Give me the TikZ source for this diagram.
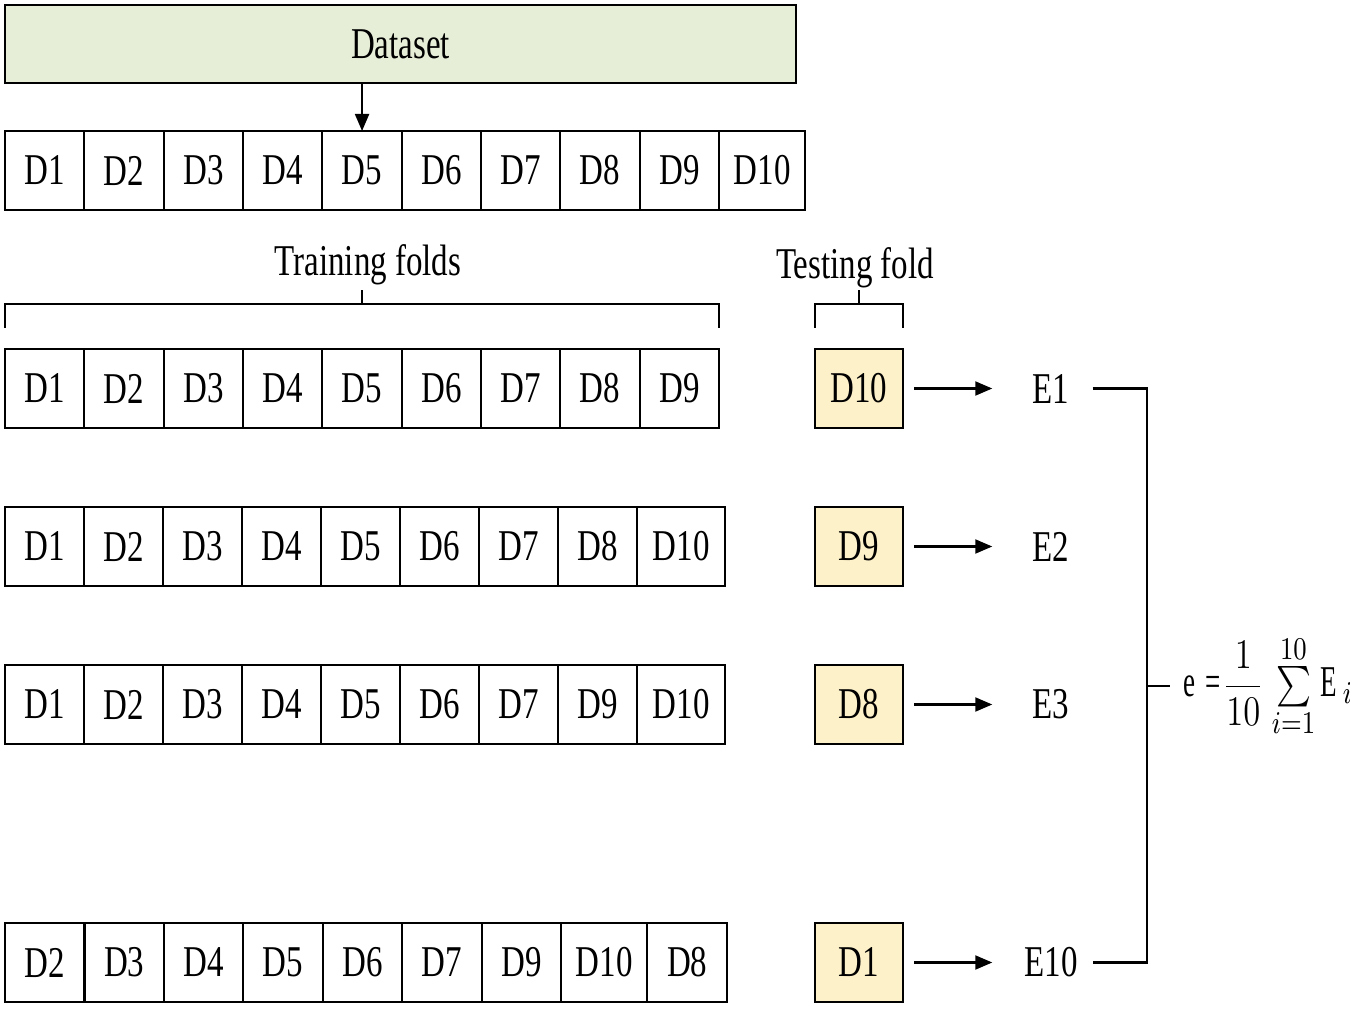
\documentclass[tikz,border=0pt]{standalone}
\usepackage{fontspec}
\setmainfont{Liberation Serif}[FakeStretch=0.75]
\usetikzlibrary{positioning,arrows.meta}
\definecolor{datagreen}{RGB}{231,238,216}
\definecolor{testyellow}{RGB}{253,241,201}
\tikzset{
  every node/.style={font=\fontsize{12.5}{15}\selectfont},
  fold/.style={draw, line width=0.6pt, minimum height=0.79cm, inner sep=0pt, outer sep=0pt},
  testfold/.style={fold, minimum width=0.88cm, fill=testyellow},
  err/.style={minimum width=0.82cm, inner sep=0pt},
  line/.style={line width=0.6pt},
  arr/.style={line width=0.6pt, -{Triangle[length=0.17cm,width=0.14cm]}}
}
\begin{document}
\begin{tikzpicture}[x=0.01cm, y=-0.01cm]
\useasboundingbox (0,0) rectangle (1350,1009);
\node[fold, fill=datagreen, minimum width=7.91cm, minimum height=0.78cm] (dataset) at (400.5,44) {Dataset};
\coordinate (r0c0) at (5,170.5);
\foreach \lab/\w [count=\c] in {D1/0.793,D2/0.793,D3/0.793,D4/0.793,D5/0.793,D6/0.793,D7/0.793,D8/0.793,D9/0.793,D10/0.86} {
  \pgfmathtruncatemacro\p{\c-1}
  \node[fold, minimum width=\w cm, right=0pt of r0c\p] (r0c\c) {\lab};
}
\draw[arr] (dataset.south -| r0c5.north) -- (r0c5.north);
\foreach \r/\yc/\cells in {
  1/388.5/{D1/0.793,D2/0.793,D3/0.793,D4/0.793,D5/0.793,D6/0.793,D7/0.793,D8/0.793,D9/0.793},
  2/546.5/{D1/0.79,D2/0.79,D3/0.79,D4/0.79,D5/0.79,D6/0.79,D7/0.79,D8/0.79,D10/0.88},
  3/704.5/{D1/0.79,D2/0.79,D3/0.79,D4/0.79,D5/0.79,D6/0.79,D7/0.79,D9/0.79,D10/0.88},
  10/962.5/{D2/0.794,D3/0.794,D4/0.794,D5/0.794,D6/0.794,D7/0.794,D9/0.794,D10/0.86,D8/0.8}} {
  \coordinate (r\r c0) at (5,\yc);
  \foreach \lab/\w [count=\c] in \cells {
    \pgfmathtruncatemacro\p{\c-1}
    \node[fold, minimum width=\w cm, right=0pt of r\r c\p] (r\r c\c) {\lab};
  }
}
\foreach \r/\yc/\t in {1/388.5/D10, 2/546.5/D9, 3/704.5/D8, 10/962.5/D1} {
  \node[testfold] (t\r) at (859,\yc) {\t};
  \node[err] (e\r) at (1051,\yc) {E\r};
  \draw[arr, shorten <=0.11cm, shorten >=0.17cm] (t\r) -- (e\r);
}
\draw[line] ([yshift=0.21cm]r1c1.north west) |- ([yshift=0.45cm]r1c9.north east) -- ([yshift=0.21cm]r1c9.north east);
\coordinate (trainmid) at ([yshift=0.45cm]r1c5.north);
\draw[line] (trainmid) -- ++(0,-14);
\node (trainlab) at (368,265) {Training folds};
\draw[line] ([yshift=0.21cm]t1.north west) |- ([yshift=0.45cm]t1.north east) -- ([yshift=0.21cm]t1.north east);
\coordinate (testmid) at ([yshift=0.45cm]t1.north);
\draw[line] (testmid) -- ++(0,-14);
\node (testlab) at (855,268) {Testing fold};
\coordinate (join) at (1147,686);
\draw[line] (e1.east) -| (join) |- (e10.east);
\node[anchor=west, inner sep=0.13cm] (formula) at (1170,686) {\scalebox{0.82}[1]{$\thickmuskip=3mu \nulldelimiterspace=0pt \displaystyle \mathrm{e}\mathrel{\mbox{=}}\frac{1}{10}\mkern3mu\mathop{\vcenter{\hbox{\scalebox{1.15}{$\textstyle\sum$}}}}\limits_{i=1}^{10}\mathrm{E}_{i}$}};
\draw[line] (join) -- (formula.west);
\end{tikzpicture}
\end{document}
